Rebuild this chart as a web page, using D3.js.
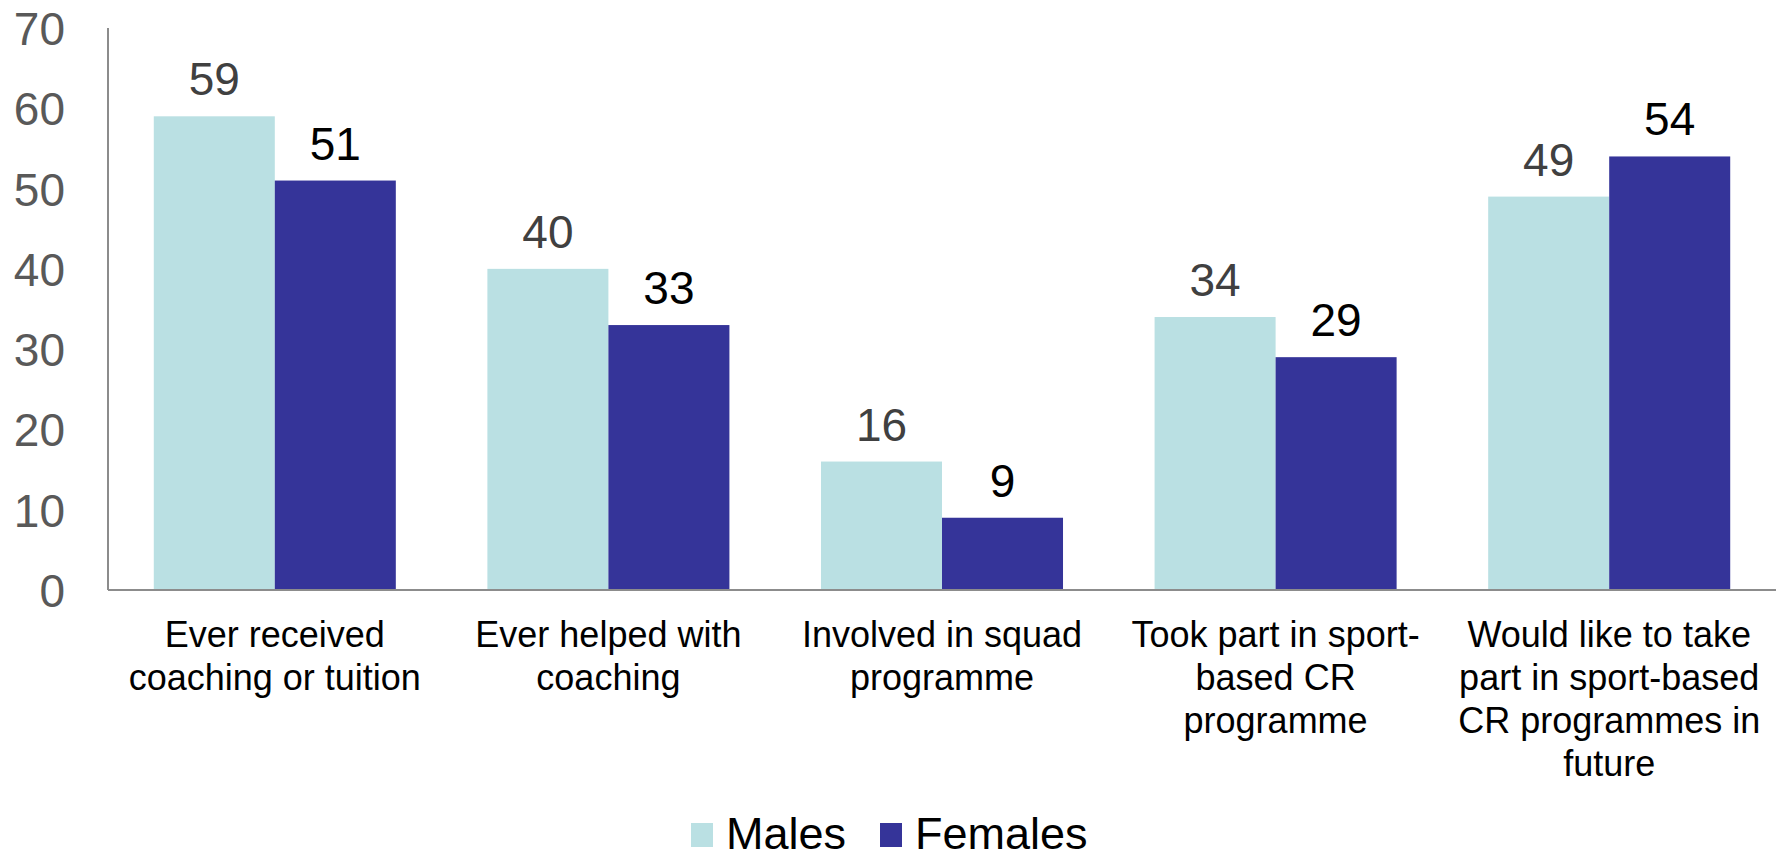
<!DOCTYPE html>
<html>
<head>
<meta charset="utf-8">
<script src="https://cdn.jsdelivr.net/npm/d3@7"></script>
<style>
  html, body { margin: 0; padding: 0; background: #ffffff; }
  svg { display: block; font-family: "Liberation Sans", Arial, Helvetica, sans-serif; }
</style>
</head>
<body>
<svg id="chart" width="1779" height="853"></svg>
<script>
// Category labels, already broken into the lines they are shown on
const categories = [
  ["Ever received", "coaching or tuition"],
  ["Ever helped with", "coaching"],
  ["Involved in squad", "programme"],
  ["Took part in sport-", "based CR", "programme"],
  ["Would like to take", "part in sport-based", "CR programmes in", "future"]
];
const seriesNames = ["Males", "Females"];
const males   = [59, 40, 16, 34, 49];
const females = [51, 33, 9, 29, 54];
const yTicks  = [0, 10, 20, 30, 40, 50, 60, 70];

const colors = { Males: "#bae0e3", Females: "#353499" };
const labelColors = { Males: "#404040", Females: "#000000" };

const svg = d3.select("#chart");
const plot = { left: 108, right: 1776, top: 28, bottom: 590 };

const x0 = d3.scaleBand()
  .domain(d3.range(categories.length))
  .range([plot.left, plot.right])
  .paddingInner(0.2745)
  .paddingOuter(0.13725);

const x1 = d3.scaleBand()
  .domain(seriesNames)
  .range([0, x0.bandwidth()]);

const y = d3.scaleLinear()
  .domain([0, 70])
  .range([plot.bottom, plot.top]);

const rows = categories.map((c, i) => ({
  i,
  values: [
    { key: "Males", value: males[i] },
    { key: "Females", value: females[i] }
  ]
}));

// Bars
const groups = svg.append("g").selectAll("g")
  .data(rows)
  .join("g")
  .attr("transform", d => `translate(${x0(d.i)},0)`);

groups.selectAll("rect")
  .data(d => d.values)
  .join("rect")
  .attr("x", d => x1(d.key))
  .attr("y", d => y(d.value))
  .attr("width", x1.bandwidth())
  .attr("height", d => y(0) - y(d.value))
  .attr("fill", d => colors[d.key]);

// Value labels above bars
groups.selectAll("text")
  .data(d => d.values)
  .join("text")
  .attr("x", d => x1(d.key) + x1.bandwidth() / 2)
  .attr("y", d => y(d.value) - 21)
  .attr("text-anchor", "middle")
  .attr("font-size", 46)
  .attr("fill", d => labelColors[d.key])
  .text(d => d.value);

// Y axis
const yAxis = d3.axisLeft(y)
  .tickValues(yTicks)
  .tickSize(0)
  .tickPadding(43);

const yg = svg.append("g")
  .attr("transform", `translate(${plot.left},0)`)
  .call(yAxis);
yg.select(".domain")
  .attr("stroke", "#8c8c8c")
  .attr("stroke-width", 2)
  .attr("d", `M0,${plot.top}V${plot.bottom}`);
yg.selectAll(".tick text")
  .attr("font-family", "Liberation Sans, Arial, sans-serif")
  .attr("font-size", 46)
  .attr("fill", "#595959")
  .attr("dy", "0.36em");

// X axis baseline
svg.append("line")
  .attr("x1", plot.left)
  .attr("x2", plot.right)
  .attr("y1", y(0))
  .attr("y2", y(0))
  .attr("stroke", "#8c8c8c")
  .attr("stroke-width", 2);

// Category labels
const catLabels = svg.append("g").selectAll("text")
  .data(categories)
  .join("text")
  .attr("x", (d, i) => x0(i) + x0.bandwidth() / 2)
  .attr("y", y(0) + 57)
  .attr("text-anchor", "middle")
  .attr("font-size", 36)
  .attr("fill", "#000000");

catLabels.selectAll("tspan")
  .data(d => d)
  .join("tspan")
  .attr("x", function () { return d3.select(this.parentNode).attr("x"); })
  .attr("dy", (d, j) => j === 0 ? 0 : 43)
  .text(d => d);

// Legend
const legendItems = [
  { key: "Males", sx: 691, tx: 726 },
  { key: "Females", sx: 880, tx: 915 }
];
const legend = svg.append("g");
legend.selectAll("rect")
  .data(legendItems)
  .join("rect")
  .attr("x", d => d.sx)
  .attr("y", 823)
  .attr("width", 22)
  .attr("height", 24)
  .attr("fill", d => colors[d.key]);
legend.selectAll("text")
  .data(legendItems)
  .join("text")
  .attr("x", d => d.tx)
  .attr("y", 849)
  .attr("font-size", 45)
  .attr("fill", "#000000")
  .text(d => d.key);
</script>
</body>
</html>
